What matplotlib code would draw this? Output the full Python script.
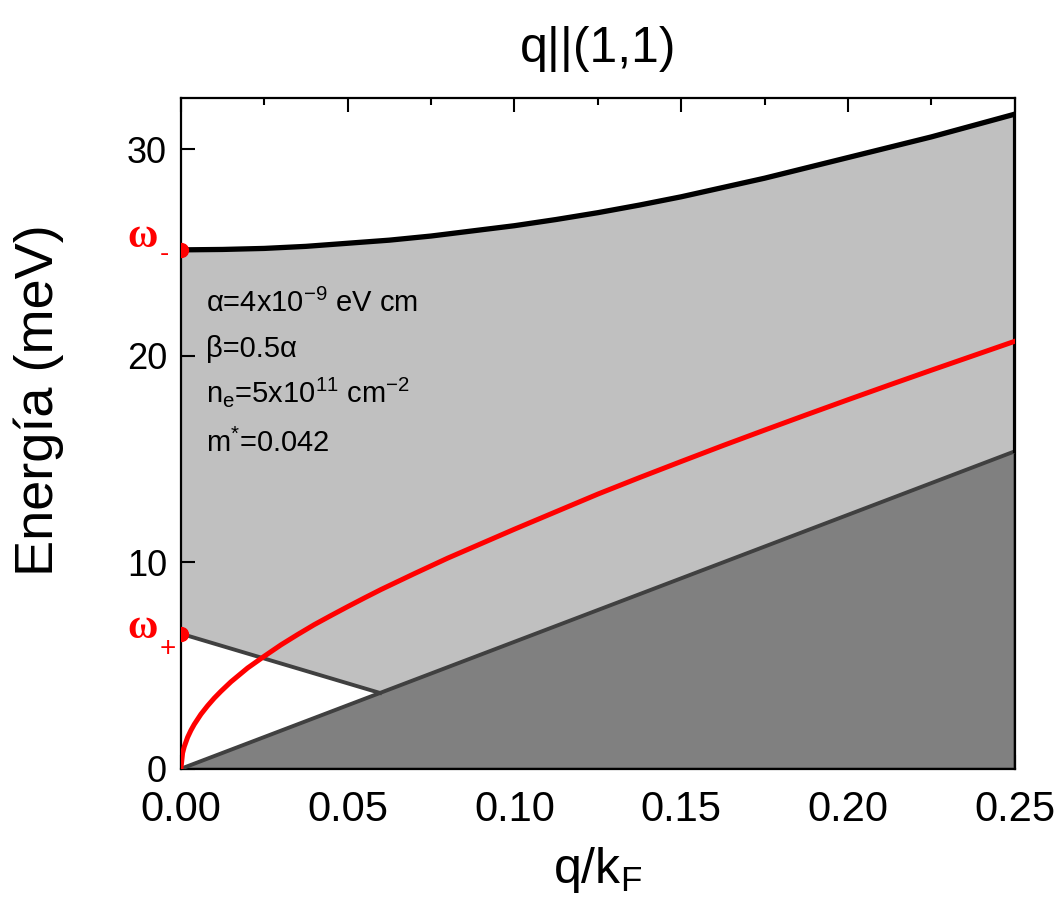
import matplotlib
matplotlib.use("Agg")
import matplotlib.pyplot as plt
from matplotlib.ticker import MultipleLocator, FormatStrFormatter

plt.rcParams['font.family'] = ['Liberation Sans', 'DejaVu Sans']
plt.rcParams['mathtext.fontset'] = 'custom'
plt.rcParams['mathtext.rm'] = 'Liberation Sans'
plt.rcParams['mathtext.it'] = 'Liberation Sans'

# upper edge of the continuum (black)
q_upper = [0.0, 0.0125, 0.025, 0.0375, 0.05, 0.0625, 0.075, 0.0875, 0.1, 0.1125,
           0.125, 0.1375, 0.15, 0.1625, 0.175, 0.1875, 0.2, 0.2125, 0.225, 0.2375, 0.25]
e_upper = [25.13, 25.15, 25.2, 25.3, 25.45, 25.6, 25.8, 26.05, 26.3, 26.6,
           26.93, 27.3, 27.7, 28.15, 28.6, 29.1, 29.6, 30.1, 30.6, 31.15, 31.7]

# lower boundary of the light region (rising line back to the kink, then descending line)
q_lower = [0.25, 0.0597, 0.0]
e_lower = [15.37, 3.67, 6.54]

# dark region under the rising line
q_dark = [0.0, 0.25, 0.25]
e_dark = [0.0, 15.37, 0.0]

# plasmon branch (red)
q_red = [0.0, 0.0005, 0.001, 0.002, 0.003, 0.004, 0.006, 0.008, 0.01, 0.012, 0.015,
         0.02, 0.025, 0.03, 0.035, 0.04, 0.045, 0.05, 0.055, 0.06, 0.07, 0.08, 0.09,
         0.1, 0.1125, 0.125, 0.1375, 0.15, 0.1625, 0.175, 0.1875, 0.2, 0.2125,
         0.225, 0.2375, 0.25]
e_red = [0.0, 0.76, 1.07, 1.52, 1.86, 2.15, 2.64, 3.05, 3.42, 3.75, 4.21,
         4.88, 5.45, 6.0, 6.5, 6.98, 7.42, 7.85, 8.27, 8.68, 9.45, 10.2, 10.9,
         11.6, 12.45, 13.3, 14.1, 14.88, 15.65, 16.4, 17.14, 17.87, 18.59,
         19.3, 20.0, 20.7]

# omega points at q = 0
q_omega = [0.0, 0.0]
e_omega = [25.13, 6.54]

fig = plt.figure(figsize=(10.58, 9.13), dpi=100)
ax = fig.add_axes([0.171, 0.158, 0.788, 0.735])

ax.fill(q_upper + q_lower, e_upper + e_lower, color='#c0c0c0', lw=0, zorder=1)
ax.fill(q_dark, e_dark, facecolor='#808080', edgecolor='#404040', lw=1.5, zorder=2)

ax.plot(q_upper, e_upper, color='black', lw=3.8, zorder=4, solid_capstyle='butt')
ax.plot(q_lower[1:], e_lower[1:], color='#404040', lw=2.8, zorder=3)
ax.plot(q_dark[:2], e_dark[:2], color='#404040', lw=2.8, zorder=3)
ax.plot([0.25, 0.25], [e_lower[0], e_upper[-1]], color='black', lw=3, zorder=4)
ax.plot(q_red, e_red, color='red', lw=3.6, zorder=5)
ax.plot(q_omega, e_omega, 'o', color='red', ms=10, zorder=6)

ax.set_xlim(0, 0.25)
ax.set_ylim(0, 32.5)
ax.xaxis.set_major_locator(MultipleLocator(0.05))
ax.xaxis.set_minor_locator(MultipleLocator(0.025))
ax.yaxis.set_major_locator(MultipleLocator(10))
ax.xaxis.set_major_formatter(FormatStrFormatter('%.2f'))
ax.tick_params(axis='both', which='major', direction='in', length=10, width=1.5,
               top=True, right=False)
ax.tick_params(axis='x', which='major', labelsize=30, pad=15)
ax.tick_params(axis='y', which='major', labelsize=26, pad=10)
ax.tick_params(axis='x', which='minor', direction='in', length=5, width=1.5, top=True)
for s in ax.spines.values():
    s.set_linewidth(1.6)

ax.set_xlabel('q/k$_\\mathregular{F}$', fontsize=36)
ax.xaxis.set_label_coords(0.5, -0.113)
ax.set_ylabel('Energía (meV)', fontsize=39)
ax.yaxis.set_label_coords(-0.140, 0.55)
ax.set_title('q||(1,1)', fontsize=36, pad=26)

ax.text(0.0075, 22.11, 'α=4x10$^{-9}$ eV cm', fontsize=21, zorder=7)
ax.text(0.0075, 19.95, 'β=0.5α', fontsize=21, zorder=7)
ax.text(0.0075, 17.77, 'n$_\\mathregular{e}$=5x10$^{11}$ cm$^{-2}$', fontsize=21, zorder=7)
ax.text(0.0075, 15.35, 'm$^{*}$=0.042', fontsize=21, zorder=7)

# omega labels left of the axis
for e_w, e_s, sign, q_s in [(25.76, 24.94, '-', -0.0051), (6.83, 5.81, '+', -0.0039)]:
    ax.text(-0.0114, e_w, 'ω', color='red', fontsize=30, fontweight='bold',
            family=['Liberation Serif'], ha='center', va='center', clip_on=False)
    ax.text(q_s, e_s, sign, color='red', fontsize=20, ha='center', va='center',
            clip_on=False)

fig.savefig('out.png', dpi=100)
